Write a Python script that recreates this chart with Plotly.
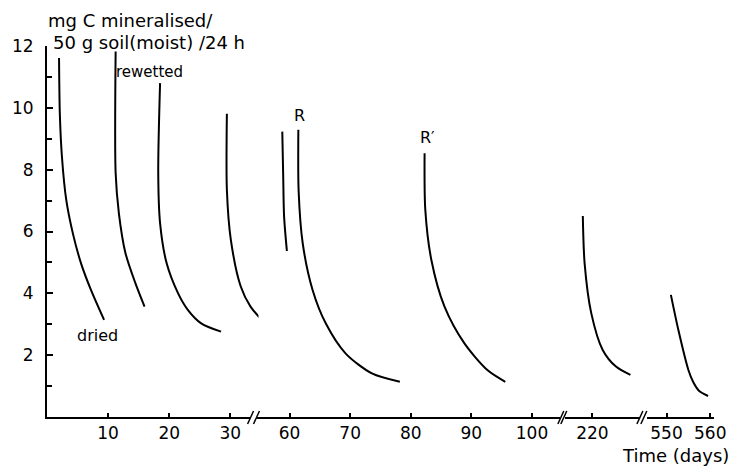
import plotly.graph_objects as go

# ---- data (days, mg C / 50 g soil / 24 h) ----
c1_days = [1.97, 2.1, 2.45, 3.15, 4.23, 5.57, 7.19, 9.34]
c1_vals = [11.61, 9.8, 8.4, 7.02, 5.94, 4.97, 4.11, 3.14]
c2_days = [11.23, 11.23, 11.76, 12.84, 14.46, 15.96]
c2_vals = [11.82, 7.89, 6.59, 5.30, 4.33, 3.57]
c3_days = [18.5, 18.2, 18.5, 19.58, 21.45, 23.07, 25.23, 28.47]
c3_vals = [10.8, 7.89, 6.27, 4.97, 4.0, 3.46, 3.03, 2.76]
c4_days = [29.43, 29.43, 30.08, 31.7, 33.3, 35.9]
c4_vals = [9.81, 7.35, 5.73, 4.22, 3.57, 2.98]
c5_days = [58.8, 58.95, 59.1, 59.56]
c5_vals = [9.23, 7.8, 6.48, 5.37]
c6_days = [61.45, 61.5, 62.17, 63.8, 65.97, 69.23, 73.59, 78.2]
c6_vals = [9.29, 7.3, 5.62, 4.11, 3.03, 2.06, 1.41, 1.14]
c7_days = [82.28, 82.4, 83.4, 85.57, 88.83, 92.64, 95.6]
c7_vals = [8.53, 6.70, 5.08, 3.57, 2.39, 1.52, 1.14]
c8_days = [218.4, 218.7, 219.8, 221.7, 223.9, 226.3]
c8_vals = [6.5, 4.97, 3.36, 2.17, 1.63, 1.36]
c9_days = [551.0, 552.7, 555.0, 556.1, 557.4, 559.5]
c9_vals = [3.95, 2.82, 1.52, 1.13, 0.85, 0.68]

seg1_ticks = [10, 20, 30]
seg2_ticks = [60, 70, 80, 90, 100]
seg3_ticks = [220]
seg4_ticks = [550, 560]
y_major = [2, 4, 6, 8, 10, 12]

# ---- layout geometry ----
W, H = 738, 471
L, R, T, B = 41, 22, 46, 54
PW, PH = W - L - R, H - T - B


def px(x):
    return (x - L) / PW


def py(y):
    return (H - B - y) / PH


FONT = "DejaVu Sans"
fig = go.Figure()

curves = [
    (c1_days, c1_vals, "x"), (c2_days, c2_vals, "x"), (c3_days, c3_vals, "x"),
    (c4_days, c4_vals, "x"), (c5_days, c5_vals, "x2"), (c6_days, c6_vals, "x2"),
    (c7_days, c7_vals, "x2"), (c8_days, c8_vals, "x3"), (c9_days, c9_vals, "x4"),
]
for d, v, xa in curves:
    fig.add_trace(go.Scatter(x=d, y=v, mode="lines", xaxis=xa, yaxis="y",
                             line=dict(color="black", width=2, shape="spline", smoothing=0.8),
                             showlegend=False, hoverinfo="skip"))

xcommon = dict(showline=True, linecolor="black", linewidth=2, ticks="inside",
               ticklen=4, tickwidth=1.5, tickcolor="black", showgrid=False,
               zeroline=False, anchor="y",
               tickfont=dict(family=FONT, size=17, color="black"))

fig.update_layout(
    width=W, height=H, margin=dict(l=L, r=R, t=T, b=B),
    paper_bgcolor="white", plot_bgcolor="white",
    xaxis=dict(domain=[px(41), px(268)], range=[0, 36.7], tickvals=seg1_ticks, **xcommon),
    xaxis2=dict(domain=[px(255), px(560)], range=[54.87, 104.6], tickvals=seg2_ticks, **xcommon),
    xaxis3=dict(domain=[px(565), px(641)], range=[215.41, 227.87], tickvals=seg3_ticks, **xcommon),
    xaxis4=dict(domain=[px(648), px(716)], range=[545.5, 560.85], tickvals=seg4_ticks, **xcommon),
    yaxis=dict(range=[0, 12], tickvals=y_major, showline=True, linecolor="black", linewidth=2,
               ticks="inside", ticklen=6, tickwidth=1.5, tickcolor="black", showgrid=False,
               zeroline=False, anchor="x", ticklabelstandoff=8,
               minor=dict(dtick=1, tick0=1, ticks="inside", ticklen=5, tickwidth=1.5, tickcolor="black"),
               tickfont=dict(family=FONT, size=17, color="black")),
)

# break marks on the time axis
shapes = []
for a, b in [(244, 256), (558, 567), (638, 648)]:
    shapes.append(dict(type="rect", xref="paper", yref="paper", x0=px(a + 3), x1=px(b - 3),
                       y0=py(420), y1=py(414), fillcolor="white", line=dict(width=0), layer="above"))
    for xs in (a, b - 6):
        shapes.append(dict(type="line", xref="paper", yref="paper", x0=px(xs), y0=py(424),
                           x1=px(xs + 6), y1=py(411), line=dict(color="black", width=1.5), layer="above"))
fig.update_layout(shapes=shapes)

ann = []


def txt(t, x, y, size=17, xanchor="left"):
    ann.append(dict(text=t, x=px(x), y=py(y), xref="paper", yref="paper", showarrow=False,
                    xanchor=xanchor, yanchor="middle", font=dict(family=FONT, size=size, color="black")))


txt("mg C mineralised/", 40, 20, size=18)
txt("50 g soil(moist) /24 h", 45, 43, size=18)
txt("rewetted", 109, 72, size=15)
txt("dried", 69, 335, size=16)
txt("R", 297, 115, size=16, xanchor="center")
txt("R\u2032", 426, 137, size=16, xanchor="center")
txt("Time (days)", 733, 455, size=18, xanchor="right")
fig.update_layout(annotations=ann)

fig.write_html("out.html", config={"displayModeBar": False},
               post_script="document.body.style.margin='0';document.body.style.padding='0';")
